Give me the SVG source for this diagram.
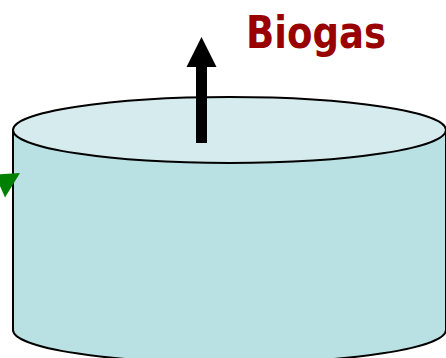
<svg xmlns="http://www.w3.org/2000/svg" width="446" height="358" viewBox="0 0 446 358">
  <style>
    .outline { stroke: #000; stroke-width: 2; }
    .label { font-family: "DejaVu Sans", "Liberation Sans", sans-serif; font-weight: bold; fill: #990000; }
  </style>
  <rect width="446" height="358" fill="#ffffff"/>
  <g id="digester">
    <path class="outline" fill="#b9e0e3" d="M13,130 L13,330 A216.5,33 0 0 0 446,330 L446,130 Z"/>
    <ellipse class="outline" cx="229.5" cy="130" rx="216.5" ry="33" fill="#d6ebee"/>
  </g>
  <g id="connectors">
    <rect x="196" y="66" width="11" height="77" fill="#000"/>
    <polygon points="186.5,67 216.5,67 201.5,37" fill="#000"/>
    <polygon points="-5,174.5 20,173 5,197.5" fill="#008000"/>
  </g>
  <g id="biogas-label">
    <text class="label" x="246" y="48" font-size="45" textLength="140" lengthAdjust="spacingAndGlyphs">Biogas</text>
  </g>
</svg>
